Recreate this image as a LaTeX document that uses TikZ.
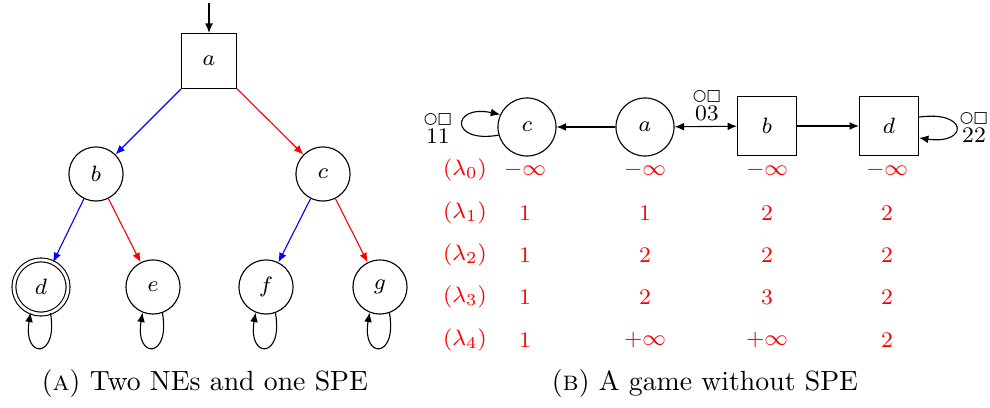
\documentclass[tikz,border=0pt]{standalone}
\usepackage{amssymb}
\usepackage{fontspec}
\newfontfamily\symbfont{DejaVu Sans}
\usetikzlibrary{arrows.meta}
\newcommand{\cirsq}{{\symbfont\fontsize{5.6}{6}\selectfont ○□}}
\begin{document}
\begin{tikzpicture}[x=0.36pt,y=-0.36pt,
  >={Latex[length=3.4pt,width=2.8pt]},
  every node/.append style={font=\fontsize{8.3}{10}\selectfont},
  circ/.style={draw,circle,minimum size=19.5pt,inner sep=0pt},
  sq/.style={draw,rectangle,minimum size=19.8pt,inner sep=0pt},
  bcirc/.style={draw,circle,minimum size=20.9pt,inner sep=0pt},
  bsq/.style={draw,rectangle,minimum size=21.2pt,inner sep=0pt},
  dcirc/.style={draw,circle,double,double distance=1pt,minimum size=19.5pt,inner sep=0pt},
  blueedge/.style={->,blue},
  rededge/.style={->,red},
  val/.style={text=red,inner sep=0pt},
  pay/.style={align=center,inner sep=0pt,font=\fontsize{8.3}{7.2}\selectfont},
  captext/.style={inner sep=0pt,font=\normalsize}
]
\useasboundingbox (0,0) rectangle (990,408);

% ---------- (a) ----------
\coordinate (init) at (209,3);
\node[sq] (a) at (209,61) {$a$};
\node[circ] (b) at (96,174) {$b$};
\node[circ] (c) at (323,174) {$c$};
\node[dcirc] (d) at (41,287) {$d$};
\node[circ] (e) at (153,287) {$e$};
\node[circ] (f) at (266,287) {$f$};
\node[circ] (g) at (380,287) {$g$};

\draw[->] (init) -- (a);
\draw[blueedge] (a) -- (b);
\draw[rededge] (a) -- (c);
\draw[blueedge] (b) -- (d);
\draw[rededge] (b) -- (e);
\draw[blueedge] (c) -- (f);
\draw[rededge] (c) -- (g);

\foreach \n in {d,e,f,g}{
  \draw[->] (\n.-70) .. controls +(-80:17pt) and +(-100:17pt) .. (\n.-112);
}

% ---------- (b) ----------
\node[bcirc] (rc) at (527,127) {$c$};
\node[bcirc] (ra) at (645,127) {$a$};
\node[bsq] (rb) at (767,126) {$b$};
\node[bsq] (rd) at (889,126) {$d$};

\draw[->] (ra) -- (rc);
\draw[<->] (ra) -- (rb);
\draw[->] (rb) -- (rd);

\draw[->] (rc.196) .. controls +(190:18pt) and +(168:18pt) .. (rc.155);
\draw[->] ([yshift=3.2pt]rd.east) .. controls +(8:18pt) and +(-8:18pt) .. ([yshift=-4.3pt]rd.east);

\node[pay] (p11) at (438,128) {\cirsq\\$11$};
\node[pay] (p03) at (707,105) {\cirsq\\$03$};
\node[pay] (p22) at (974,127) {\cirsq\\$22$};

% values
\foreach \lab/\y/\vc/\va/\vb/\vd in {
  0/170/-\infty/-\infty/-\infty/-\infty,
  1/213/1/1/2/2,
  2/255/1/2/2/2,
  3/297/1/2/3/2,
  4/340/1/+\infty/+\infty/2}{
  \node[val] (l\lab) at (465,\y) {$(\lambda_{\lab})$};
  \node[val] (vc\lab) at (525,\y) {$\vc$};
  \node[val] (va\lab) at (645,\y) {$\va$};
  \node[val] (vb\lab) at (767,\y) {$\vb$};
  \node[val] (vd\lab) at (887,\y) {$\vd$};
}

% captions
\node[captext] (capa) at (205,384) {(\textsc{a}) Two NEs and one SPE};
\node[captext] (capb) at (705,384) {(\textsc{b}) A game without SPE};
\end{tikzpicture}
\end{document}
